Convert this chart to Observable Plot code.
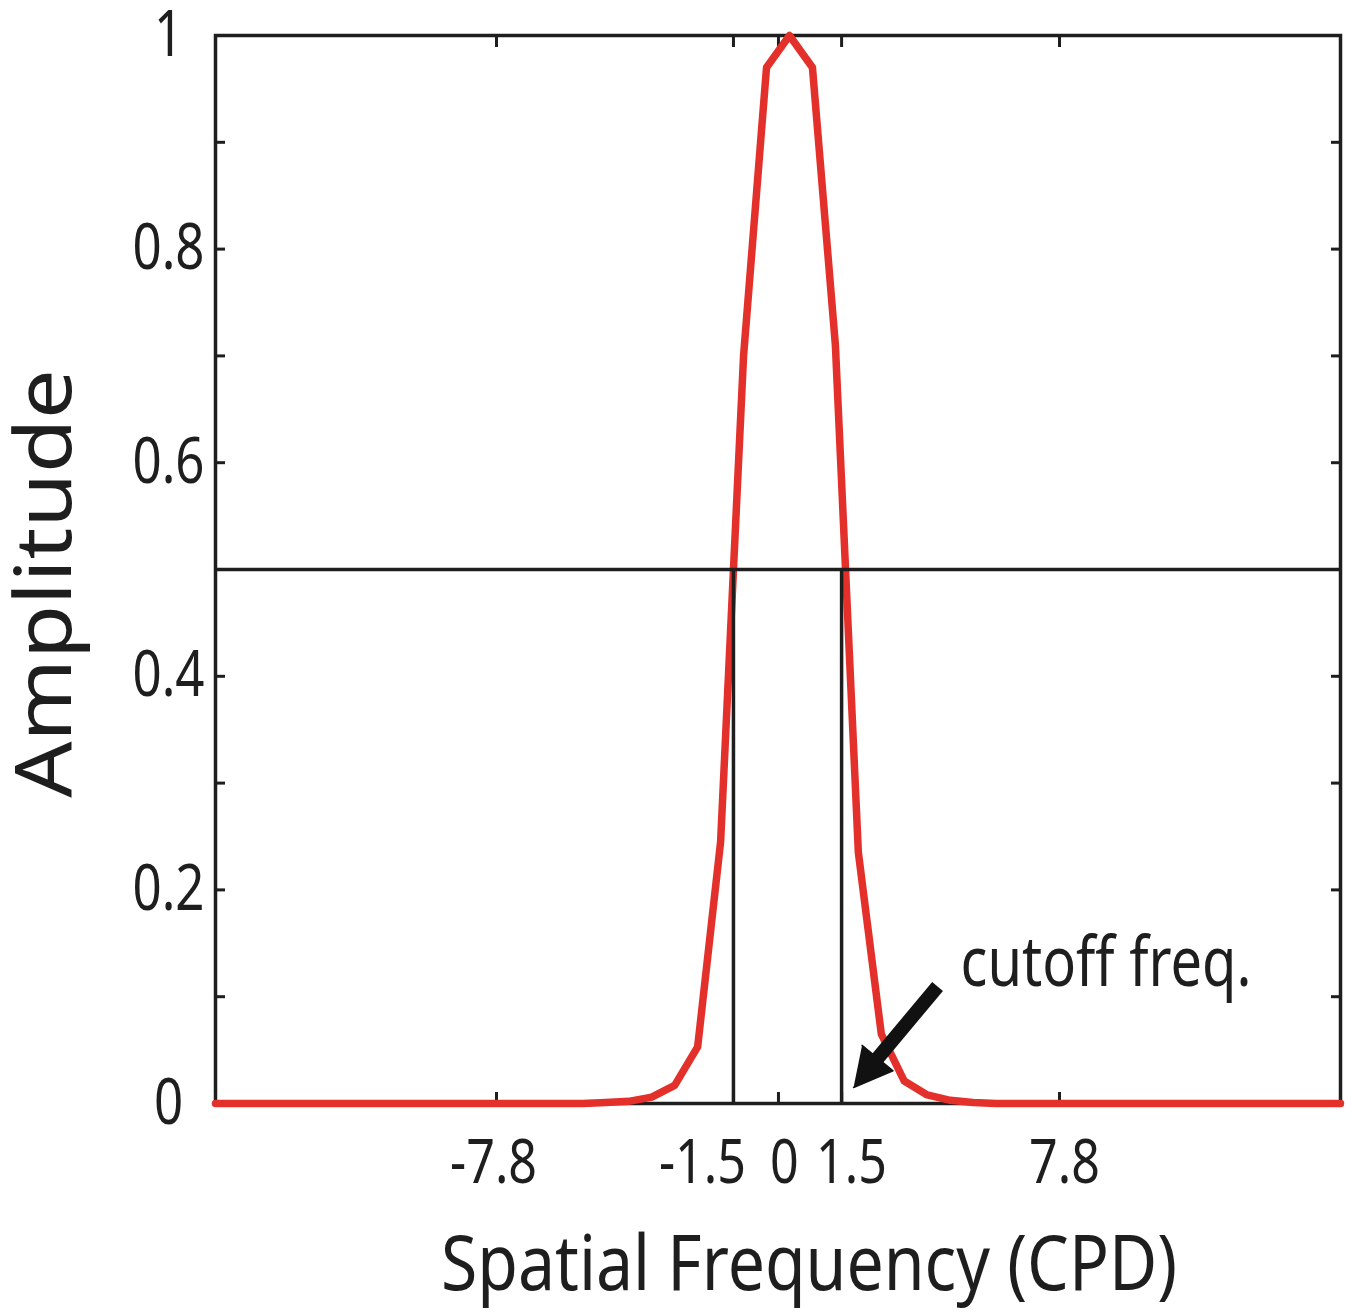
<!DOCTYPE html>
<html>
<head>
<meta charset="utf-8">
<script src="https://cdn.jsdelivr.net/npm/d3@7"></script>
<script src="https://cdn.jsdelivr.net/npm/@observablehq/plot@0.6"></script>
<style>
  html, body { margin: 0; padding: 0; background: #ffffff; }
  #chart svg { display: block; }
</style>
</head>
<body>
<div id="chart"></div>
<script>
// ---- data ----
// sample index of the (fft-shifted) spatial frequency axis, 50 samples
const sampleIndex = [1,2,3,4,5,6,7,8,9,10,11,12,13,14,15,16,17,18,19,20,21,22,23,24,25,
                     26,27,28,29,30,31,32,33,34,35,36,37,38,39,40,41,42,43,44,45,46,47,48,49,50];
// filter amplitude at each sample
const amplitude = [0,0,0,0,0,0,0,0,0,0,0,0,0,0,0,0,0,
                   0.001,0.002,0.006,0.017,0.053,0.245,0.70,0.97,
                   1.0,
                   0.97,0.71,0.235,0.065,0.021,0.008,0.003,0.001,
                   0,0,0,0,0,0,0,0,0,0,0,0,0,0,0,0];
// x ticks (in sample-index units) and their labels
const xTickIndex = [13.24, 23.56, 25.52, 28.27, 37.76];
const xLabelIndex = [13.11, 22.21, 25.78, 28.70, 37.98];
const xTickLabels = ["-7.8", "-1.5", "0", "1.5", "7.8"];
// y ticks
const yTickValues = [0, 0.1, 0.2, 0.3, 0.4, 0.5, 0.6, 0.7, 0.8, 0.9, 1];
const yLabelValues = [0, 0.2, 0.4, 0.6, 0.8, 1];
const yTickLabels = ["0", "0.2", "0.4", "0.6", "0.8", "1"];
// half-amplitude level and cutoff frequencies (sample-index units)
const halfLevel = [0.5];
const cutoffIndex = [23.56, 28.27];
// annotation
const noteText = ["cutoff freq."];
const noteIndex = [33.45];
const noteAmp = [0.11];
const arrowTail = {i: 32.45, a: 0.1096};
const arrowNeck = {i: 29.83, a: 0.0421};
const arrowHead = [{i: 28.79, a: 0.015}, {i: 30.51, a: 0.0306}, {i: 29.16, a: 0.0544}];
// titles
const xTitle = "Spatial Frequency (CPD)";
const yTitle = "Amplitude";

// ---- chart ----
const font = "'Noto Sans', 'Open Sans', 'Liberation Sans', sans-serif";
const ink = "#1e1e1e";
const red = "#e3302a";

const curve = sampleIndex.map((s, k) => ({i: s, a: amplitude[k]}));
const notes = noteText.map((t, k) => ({t, i: noteIndex[k], a: noteAmp[k]}));

const chart = Plot.plot({
  width: 1352,
  height: 1314,
  marginLeft: 215,
  marginRight: 12,
  marginTop: 35,
  marginBottom: 211,
  x: {domain: [1, 50]},
  y: {domain: [0, 1]},
  style: {fontFamily: font, background: "#ffffff", color: ink},
  marks: [
    Plot.frame({stroke: ink, strokeWidth: 3.5}),
    // inward tick marks on all four sides
    Plot.axisY({anchor: "left", ticks: yTickValues, tickSize: -10, strokeWidth: 3, fill: "none", label: null}),
    Plot.axisY({anchor: "right", ticks: yTickValues, tickSize: -10, strokeWidth: 3, fill: "none", label: null}),
    Plot.axisX({anchor: "bottom", ticks: xTickIndex, tickSize: -11, strokeWidth: 3, fill: "none", label: null}),
    Plot.axisX({anchor: "top", ticks: xTickIndex, tickSize: -11, strokeWidth: 3, fill: "none", label: null}),
    // tick labels
    Plot.axisY({anchor: "left", ticks: yLabelValues, tickSize: 0, tickPadding: 47, textAnchor: "middle",
                tickFormat: (d, k) => yTickLabels[k], fontSize: 63, fill: ink, label: null}),
    Plot.axisX({anchor: "bottom", ticks: xLabelIndex, tickSize: 0, tickPadding: 35,
                tickFormat: (d, k) => xTickLabels[k], fontSize: 62, fill: ink, label: null}),
    // filter curve
    Plot.line(curve, {x: "i", y: "a", stroke: red, strokeWidth: 7.5}),
    // half amplitude and cutoff lines
    Plot.ruleY(halfLevel, {stroke: ink, strokeWidth: 3.5}),
    Plot.ruleX(cutoffIndex, {y1: 0, y2: halfLevel[0], stroke: ink, strokeWidth: 3.5}),
    // annotation arrow
    Plot.link([{t: arrowTail, h: arrowNeck}], {x1: d => d.t.i, y1: d => d.t.a, x2: d => d.h.i, y2: d => d.h.a,
               stroke: "#111", strokeWidth: 14, strokeLinecap: "butt"}),
    Plot.line(arrowHead, {x: "i", y: "a", fill: "#111", stroke: "#111", strokeWidth: 1.5}),
    Plot.text(notes, {x: "i", y: "a", text: "t", textAnchor: "start", lineAnchor: "bottom",
                      fontSize: 70, fill: ink}),
    // axis titles
    Plot.text([xTitle], {frameAnchor: "bottom", text: d => d, textAnchor: "middle", dx: 31, dy: 186,
                         lineAnchor: "bottom", fontSize: 76, fill: ink}),
    Plot.text([yTitle], {frameAnchor: "left", text: d => d, rotate: -90, textAnchor: "middle",
                         dx: -145, dy: 14, lineAnchor: "bottom", fontSize: 78, fill: ink})
  ]
});

document.getElementById("chart").appendChild(chart);

// The reference typeface is a stretched humanist sans: squeeze horizontal texts and
// widen the rotated title so their proportions follow the picture.
const stretch = new Map([
  ...yTickLabels.map(t => [t, 0.81]),
  ...xTickLabels.map(t => [t, 0.81]),
  [xTitle, 0.87],
  [noteText[0], 0.80],
  [yTitle, 1.13]
]);
chart.querySelectorAll("text").forEach(el => {
  const f = stretch.get(el.textContent);
  if (!f) return;
  const len = el.getComputedTextLength();
  el.setAttribute("textLength", (len * f).toFixed(1));
  el.setAttribute("lengthAdjust", "spacingAndGlyphs");
});
</script>
</body>
</html>
